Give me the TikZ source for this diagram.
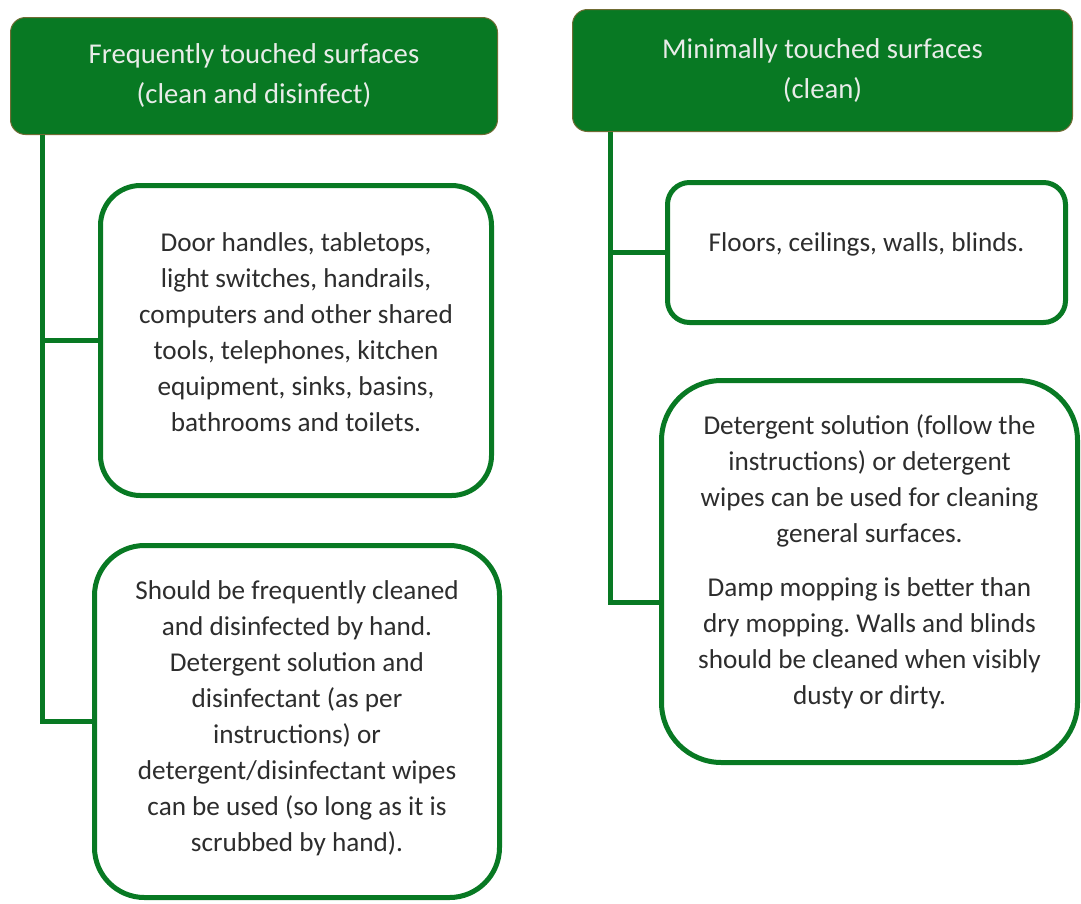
\documentclass[tikz,border=0pt]{standalone}
\usepackage{fontspec}
\setmainfont{Carlito}
\frenchspacing
\usepackage{xcolor}
\usepackage{tikz}
\definecolor{leafgreen}{RGB}{8,121,35}
\definecolor{headedge}{RGB}{112,108,52}
\definecolor{headtext}{RGB}{232,236,232}
\definecolor{bodytext}{RGB}{45,45,45}
\tikzstyle{header} = [rectangle, rounded corners=15pt, minimum width=487pt, minimum height=117pt, align=center, draw=headedge, line width=1pt, fill=leafgreen, text=headtext, font=\fontsize{28.7}{40}\selectfont]
\tikzstyle{item} = [rectangle, align=center, draw=leafgreen, line width=5pt, fill=white, text=bodytext, font=\fontsize{27.2}{36}\selectfont]
\tikzstyle{link} = [draw=leafgreen, line width=5pt]

\begin{document}
\begin{tikzpicture}[x=1pt, y=-1pt]
            \useasboundingbox (0,0) rectangle (1081,903);

            \node (hdrL) [header] at (254,76) {Frequently touched surfaces\\(clean and disinfect)};
            \node (hdrR) [header, minimum width=500pt, minimum height=122pt] at (822.5,70.5) {Minimally touched surfaces\\(clean)};

            \node (boxL1) [item, rounded corners=40pt, minimum width=391pt, minimum height=310pt, text depth=16pt] at (296,340.5) {Door handles, tabletops,\\light switches, handrails,\\computers and other shared\\tools, telephones, kitchen\\equipment, sinks, basins,\\bathrooms and toilets.};
            \node (boxL2) [item, rounded corners=50pt, minimum width=405pt, minimum height=352pt, text depth=11pt] at (297,721.5) {Should be frequently cleaned\\and disinfected by hand.\\Detergent solution and\\disinfectant (as per\\instructions) or\\detergent/disinfectant wipes\\can be used (so long as it is\\scrubbed by hand).};
            \node (boxR1) [item, rounded corners=22pt, minimum width=398pt, minimum height=140pt, text depth=20pt] at (866.5,252.5) {Floors, ceilings, walls, blinds.};
            \node (boxR2) [item, rounded corners=60pt, minimum width=416pt, minimum height=382pt, text depth=24pt] at (869.5,571.5) {Detergent solution (follow the\\instructions) or detergent\\wipes can be used for cleaning\\general surfaces.\\[18pt]Damp mopping is better than\\dry mopping. Walls and blinds\\should be cleaned when visibly\\dusty or dirty.};

            \draw [link] ([xshift=32pt]hdrL.south west) |- (boxL1.west);
            \draw [link] ([xshift=32pt]hdrL.south west) |- (boxL2.west);
            \draw [link] ([xshift=38pt]hdrR.south west) |- (boxR1.west);
            \draw [link] ([xshift=38pt]hdrR.south west) |- ([yshift=-30.5pt]boxR2.west);
        \end{tikzpicture}
\end{document}
